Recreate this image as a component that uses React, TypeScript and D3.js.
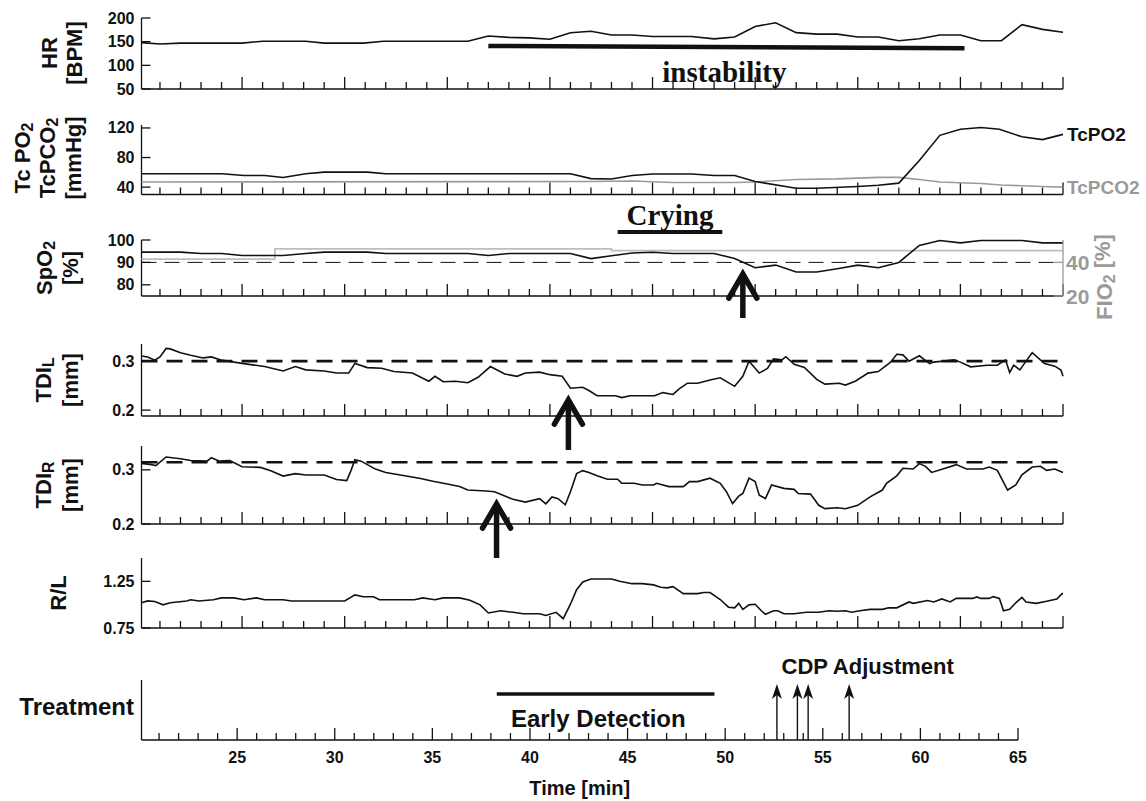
import * as d3 from "d3";

// time in minutes, value in the unit of each panel
const hr: [number, number][] = [
  [20.1, 148], [21, 145], [22, 147], [25, 147], [26, 151], [28.1, 151], [29, 147], [30.9, 147],
  [31.9, 151], [36, 151], [37, 162], [38, 159], [39, 158], [40, 155], [41, 169], [42, 172],
  [43, 164], [44, 164], [45, 161], [46.9, 161], [48, 156], [49, 160], [50, 182], [51, 190],
  [52, 169], [53, 166], [54, 166], [55, 160], [56, 160], [57, 152], [58, 156], [59, 164],
  [60, 164], [61, 152], [62, 152], [63, 186], [64, 176], [65, 170],
];

const tcpo2: [number, number][] = [
  [20.1, 58], [24, 58], [25.1, 55.6], [26.1, 55.6], [27, 53], [28.1, 58], [29, 60.2], [31.1, 60.2],
  [32, 58], [41, 58], [42, 51.5], [43, 51], [44, 55.7], [45, 57.8], [46.9, 57.8], [48, 55.7],
  [49, 55.7], [50, 47.5], [52, 38.4], [53, 38.4], [55, 40.9], [56, 42.6], [57, 45.4], [58, 76],
  [59, 110], [60, 118.3], [61, 120.7], [61.9, 118.3], [63, 108], [64, 104.3], [65, 111.3],
];

const tcpco2: [number, number][] = [
  [20.1, 47], [42, 47.5], [44, 48.2], [46, 46.2], [49, 46.2], [50, 47], [52, 50.3], [54, 51.1],
  [56, 53.2], [57, 53.2], [58, 50.3], [59, 47], [61, 44.9], [62, 42.9], [64, 40.8], [65, 40],
];

const spo2: [number, number][] = [
  [20.1, 94.6], [22, 94.6], [23, 94], [24, 94], [25, 93.1], [27, 93.1], [28.1, 94], [29, 94.6],
  [31.1, 94.6], [32, 94], [36, 94], [37, 93.1], [38, 94], [41, 94], [42, 91.7], [43, 93],
  [44, 94.2], [45, 94.5], [46, 94], [48, 94], [49, 91.7], [50, 87.6], [51, 88.8], [52, 85.7],
  [53, 85.7], [54, 87.2], [55, 88.8], [56, 87.6], [57, 90], [58, 97.6], [59, 99.8], [60, 98.7],
  [61, 99.8], [63, 99.8], [64, 98.7], [65, 98.7],
];

const fio2: [number, number][] = [[20.1, 42], [26.6, 48], [43, 47], [65, 47]];

const tdiL: [number, number][] = [
  [20.1, 0.3105], [20.4, 0.3086], [20.75, 0.302], [21, 0.3086], [21.3, 0.326], [21.5, 0.325],
  [22, 0.317], [22.5, 0.312], [23.1, 0.3066], [23.5, 0.3086], [24, 0.302], [25, 0.2954],
  [26.1, 0.289], [27, 0.28], [27.6, 0.289], [28.1, 0.2822], [29, 0.28], [29.6, 0.2757],
  [30.2, 0.2757], [30.5, 0.2954], [31.1, 0.2868], [31.8, 0.2855], [32.4, 0.279], [33.3, 0.2757],
  [34.1, 0.259], [34.4, 0.269], [34.8, 0.258], [35.4, 0.259], [36, 0.256], [36.5, 0.267],
  [37.1, 0.289], [37.8, 0.2737], [38.4, 0.269], [38.8, 0.2757], [39.5, 0.2776], [40, 0.2724],
  [40.6, 0.269], [41, 0.2447], [41.6, 0.2466], [41.9, 0.24], [42.3, 0.2293], [43.2, 0.2293],
  [43.5, 0.2255], [43.9, 0.2293], [45.1, 0.2293], [45.5, 0.2358], [46, 0.232], [46.3, 0.2435],
  [46.7, 0.255], [47.2, 0.255], [47.8, 0.2615], [48.3, 0.266], [49, 0.2486], [49.4, 0.269],
  [49.7, 0.3], [50.2, 0.2756], [50.6, 0.285], [50.9, 0.3045], [51.3, 0.3026], [51.5, 0.309],
  [51.9, 0.2936], [52.4, 0.2872], [53, 0.2627], [53.4, 0.2531], [54.1, 0.255], [54.4, 0.2512],
  [54.9, 0.2595], [55.5, 0.2756], [56, 0.2788], [56.6, 0.298], [56.9, 0.3141], [57.2, 0.3128],
  [57.5, 0.3], [58, 0.311], [58.5, 0.2949], [58.7, 0.298], [59.7, 0.3026], [60, 0.298],
  [60.5, 0.2884], [61.3, 0.2917], [61.8, 0.2917], [62.2, 0.3026], [62.4, 0.2769], [62.6, 0.2917],
  [62.9, 0.282], [63.2, 0.3], [63.5, 0.3173], [64.1, 0.2949], [64.6, 0.2897], [64.9, 0.282],
  [65, 0.269],
];

const tdiR: [number, number][] = [
  [20.1, 0.312], [20.6, 0.3096], [20.8, 0.3077], [21.3, 0.3237], [22, 0.3205], [22.5, 0.3173],
  [23.3, 0.316], [23.5, 0.3224], [23.9, 0.316], [24.4, 0.3173], [25, 0.3058], [25.9, 0.3045],
  [26.4, 0.2981], [27, 0.2885], [27.6, 0.293], [28.1, 0.2904], [29, 0.2904], [29.6, 0.282],
  [30.1, 0.28], [30.3, 0.2981], [30.5, 0.3186], [30.8, 0.316], [31.5, 0.3013], [32, 0.2949],
  [33, 0.2885], [33.7, 0.284], [34.3, 0.2788], [35, 0.2737], [35.6, 0.2692], [36, 0.2628],
  [36.9, 0.2609], [37.3, 0.2596], [38.2, 0.2455], [38.8, 0.2404], [39.5, 0.2468], [39.8, 0.2372],
  [40.1, 0.25], [40.4, 0.2468], [40.75, 0.2355], [41, 0.2596], [41.3, 0.293], [41.6, 0.2985],
  [41.9, 0.2952], [42.3, 0.289], [42.8, 0.2827], [43.3, 0.2827], [43.5, 0.2752], [44.1, 0.2752],
  [44.5, 0.272], [45.05, 0.272], [45.2, 0.2752], [45.8, 0.269], [46.5, 0.269], [46.8, 0.2783],
  [47.2, 0.2783], [47.8, 0.2846], [48.3, 0.2752], [48.6, 0.2596], [48.9, 0.2377], [49.2, 0.2514],
  [49.4, 0.2564], [49.7, 0.2846], [50, 0.2783], [50.2, 0.2533], [50.5, 0.247], [50.8, 0.272],
  [51.4, 0.2658], [51.9, 0.2639], [52.1, 0.2564], [52.7, 0.2552], [53.1, 0.2345], [53.4, 0.2283],
  [54, 0.2301], [54.4, 0.2283], [55, 0.2345], [55.6, 0.2502], [56.2, 0.2627], [56.4, 0.2752],
  [56.9, 0.289], [57.2, 0.303], [57.7, 0.3015], [58, 0.3115], [58.3, 0.3065], [58.6, 0.2952],
  [59.3, 0.3034], [59.8, 0.3096], [60.3, 0.3015], [61.1, 0.3015], [61.4, 0.3052], [61.8, 0.299],
  [62.3, 0.2627], [62.7, 0.272], [63, 0.2908], [63.5, 0.3052], [63.9, 0.3065], [64.2, 0.299],
  [64.6, 0.3015], [65, 0.2952],
];

const ratioRL: [number, number][] = [
  [20.1, 1.021], [20.4, 1.04], [20.75, 1.034], [21.15, 0.998], [21.5, 1.021], [22.3, 1.04],
  [22.5, 1.053], [22.9, 1.04], [23.6, 1.053], [24, 1.073], [24.6, 1.073], [25.1, 1.053],
  [25.7, 1.073], [26.1, 1.053], [27, 1.053], [27.4, 1.04], [30, 1.04], [30.5, 1.105],
  [30.9, 1.085], [31.4, 1.085], [31.7, 1.053], [33.4, 1.053], [33.8, 1.073], [34.4, 1.053],
  [34.8, 1.073], [35.6, 1.073], [36.1, 1.047], [36.6, 0.998], [37, 0.911], [37.6, 0.934],
  [38.2, 0.918], [38.7, 0.902], [39.5, 0.902], [39.8, 0.885], [40.3, 0.918], [40.65, 0.85],
  [41, 1.005], [41.3, 1.16], [41.6, 1.244], [42, 1.275], [43, 1.275], [43.4, 1.25],
  [44, 1.225], [44.5, 1.225], [45.05, 1.212], [45.4, 1.187], [45.7, 1.18], [46, 1.193],
  [46.5, 1.118], [47.2, 1.118], [47.5, 1.13], [47.8, 1.13], [48.3, 1.055], [48.7, 0.973],
  [49, 0.966], [49.2, 1.014], [49.4, 0.95], [49.7, 0.998], [50, 1.004], [50.3, 0.935],
  [50.5, 0.897], [50.9, 0.935], [51.1, 0.935], [51.4, 0.903], [51.9, 0.903], [52.5, 0.919],
  [53.1, 0.919], [53.6, 0.935], [54, 0.929], [54.4, 0.935], [54.7, 0.919], [55.1, 0.935],
  [55.6, 0.95], [56.2, 0.95], [56.5, 0.966], [56.9, 0.966], [57.5, 1.029], [57.7, 1.014],
  [58.4, 1.045], [58.7, 1.029], [59.1, 1.061], [59.5, 1.029], [59.8, 1.067], [60.6, 1.067],
  [60.8, 1.083], [61, 1.067], [61.4, 1.067], [61.6, 1.086], [61.9, 1.067], [62.1, 0.935],
  [62.4, 0.95], [62.7, 1.02], [63, 1.077], [63.2, 1.029], [63.7, 1.014], [64.2, 1.036],
  [64.7, 1.061], [64.96, 1.118], [65, 1.118],
];

// annotations (minutes); the treatment row uses its own, narrower time axis
const instability = [[37, 141], [60.2, 136]];
const crying = [43.3, 48.4];
const earlyDetection = [38.3, 49.45];
const cdpAdjustments = [52.65, 53.7, 54.25, 56.35];
const xMajor = [25, 30, 35, 40, 45, 50, 55, 60, 65];
const xMinor = d3.range(21, 66);

const FONT = "'Liberation Sans', Arial, Helvetica, sans-serif";
const SERIF = "'Liberation Serif', 'Times New Roman', serif";
const INK = "#111";
const GREY = "#9a9a9a";
const LIGHT = "#bdbdbd";

const X_LEFT = 141.5;
const X_RIGHT = 1063;
const X_RIGHT_T = 1018;
const x = d3.scaleLinear().domain([20.1, 65]).range([X_LEFT, X_RIGHT]);
const xT = d3.scaleLinear().domain([20.1, 65]).range([X_LEFT, X_RIGHT_T]);

const line = (y: d3.ScaleLinear<number, number>, curve = d3.curveLinear) =>
  d3
    .line<[number, number]>()
    .x((d) => x(d[0]))
    .y((d) => y(d[1]))
    .curve(curve);

function Axes({ top, bottom, y, ticks, sx = x, showX = false }: any) {
  const [r0, r1] = sx.range();
  return (
    <g stroke={INK} strokeWidth={1.3}>
      <line x1={r0} x2={r0} y1={top} y2={bottom} />
      <line x1={r0} x2={r1} y1={bottom} y2={bottom} />
      {xMinor.map((t) => (
        <line key={t} x1={sx(t)} x2={sx(t)} y1={bottom} y2={bottom - (t % 5 === 0 ? 12 : 7)} />
      ))}
      {y &&
        ticks.map((v: number) => (
          <g key={v}>
            <line x1={r0} x2={r0 + 9} y1={y(v)} y2={y(v)} />
            <text
              x={r0 - 7}
              y={y(v)}
              stroke="none"
              fill={INK}
              fontSize={16}
              fontWeight="bold"
              textAnchor="end"
              dominantBaseline="central"
            >
              {String(v)}
            </text>
          </g>
        ))}
      {showX &&
        xMajor.map((t) => (
          <text
            key={t}
            x={sx(t)}
            y={bottom + 23}
            stroke="none"
            fill={INK}
            fontSize={16}
            fontWeight="bold"
            textAnchor="middle"
          >
            {t}
          </text>
        ))}
    </g>
  );
}

function YLabel({ cx, cy, children, color = INK }: any) {
  return (
    <text
      transform={`translate(${cx},${cy}) rotate(-90)`}
      textAnchor="middle"
      dominantBaseline="central"
      fontSize={22}
      fontWeight="bold"
      fill={color}
    >
      {children}
    </text>
  );
}

function BigArrow({ cx, tip, len }: any) {
  return (
    <g stroke={INK} strokeWidth={5.5} fill="none">
      <line x1={cx} x2={cx} y1={tip + 4} y2={tip + len} />
      <polyline
        points={`${cx - 14},${tip + 26} ${cx},${tip + 2} ${cx + 14},${tip + 26}`}
        strokeLinecap="round"
        strokeLinejoin="miter"
      />
    </g>
  );
}

function ThinArrow({ cx, tip, bottom }: any) {
  return (
    <g>
      <line x1={cx} x2={cx} y1={tip + 4} y2={bottom} stroke={INK} strokeWidth={1.4} />
      <path
        d={`M${cx},${tip} L${cx - 5},${tip + 15} L${cx},${tip + 11} L${cx + 5},${tip + 15} Z`}
        fill={INK}
      />
    </g>
  );
}

const Sub = ({ children }: any) => (
  <>
    <tspan dy="0.3em" fontSize="0.72em">
      {children}
    </tspan>
    <tspan dy="-0.3em"> </tspan>
  </>
);

export default function App() {
  const hrY = d3.scaleLinear().domain([50, 200]).range([89, 18]);
  const tcY = d3.scaleLinear().domain([30, 124]).range([194.5, 125]);
  const spY = d3.scaleLinear().domain([75, 100]).range([296, 240]);
  const fiY = d3.scaleLinear().domain([20, 53.33]).range([296, 240]);
  const tlY = d3.scaleLinear().domain([0.188, 0.335]).range([416, 344]);
  const trY = d3.scaleLinear().domain([0.2, 0.344]).range([524, 446]);
  const rlY = d3.scaleLinear().domain([0.75, 1.5]).range([628, 558]);
  const trTop = 680;
  const trBottom = 740;

  const last = (a: [number, number][]) => a[a.length - 1];

  return (
    <svg
      width={1146}
      height={801}
      style={{ position: "absolute", left: 0, top: 0, background: "#fff" }}
      fontFamily={FONT}
    >
      {/* HR */}
      <Axes top={18} bottom={89} y={hrY} ticks={[50, 100, 150, 200]} />
      <path d={line(hrY)(hr)!} fill="none" stroke={INK} strokeWidth={1.6} />
      <line
        x1={x(instability[0][0])}
        y1={hrY(instability[0][1])}
        x2={x(instability[1][0])}
        y2={hrY(instability[1][1])}
        stroke={INK}
        strokeWidth={4.5}
      />
      <text x={x(48.5)} y={82} textAnchor="middle" fontFamily={SERIF} fontWeight="bold" fontSize={29} fill={INK}>
        instability
      </text>
      <YLabel cx={49} cy={53}>HR</YLabel>
      <YLabel cx={74} cy={53}>[BPM]</YLabel>

      {/* TcPO2 / TcPCO2 */}
      <Axes top={125} bottom={194.5} y={tcY} ticks={[40, 80, 120]} />
      <path d={line(tcY)(tcpco2)!} fill="none" stroke={GREY} strokeWidth={1.6} />
      <path d={line(tcY)(tcpo2)!} fill="none" stroke={INK} strokeWidth={1.6} />
      <text x={X_RIGHT + 4} y={tcY(last(tcpo2)[1])} dominantBaseline="central" fontSize={19} fontWeight="bold" fill={INK}>
        TcPO2
      </text>
      <text x={X_RIGHT + 4} y={tcY(last(tcpco2)[1])} dominantBaseline="central" fontSize={19} fontWeight="bold" fill={GREY}>
        TcPCO2
      </text>
      <YLabel cx={22} cy={158}>
        Tc PO<Sub>2</Sub>
      </YLabel>
      <YLabel cx={47} cy={158}>
        TcPCO<Sub>2</Sub>
      </YLabel>
      <YLabel cx={73} cy={158}>[mmHg]</YLabel>

      {/* SpO2 / FIO2 */}
      <Axes top={240} bottom={296} y={spY} ticks={[80, 90, 100]} />
      <line x1={X_LEFT} x2={X_RIGHT} y1={spY(90)} y2={spY(90)} stroke={INK} strokeWidth={1} strokeDasharray="15 8" />
      <path d={line(fiY, d3.curveStepAfter)(fio2)!} fill="none" stroke={LIGHT} strokeWidth={1.8} />
      <path d={line(spY)(spo2)!} fill="none" stroke={INK} strokeWidth={1.6} />
      <g stroke={GREY} strokeWidth={1.3}>
        <line x1={X_RIGHT} x2={X_RIGHT} y1={240} y2={296} />
        {[20, 40].map((v) => (
          <line key={v} x1={X_RIGHT - 9} x2={X_RIGHT} y1={fiY(v)} y2={fiY(v)} />
        ))}
      </g>
      {[20, 40].map((v) => (
        <text key={v} x={X_RIGHT + 3} y={fiY(v)} dominantBaseline="central" fontSize={21} fontWeight="bold" fill={GREY}>
          {v}
        </text>
      ))}
      <YLabel cx={1104} cy={277} color={GREY}>
        FIO<Sub>2</Sub>[%]
      </YLabel>
      <line x1={x(crying[0])} x2={x(crying[1])} y1={232} y2={232} stroke={INK} strokeWidth={4} />
      <text x={x((crying[0] + crying[1]) / 2)} y={225} textAnchor="middle" fontFamily={SERIF} fontWeight="bold" fontSize={29} fill={INK}>
        Crying
      </text>
      <YLabel cx={44} cy={268}>
        SpO<Sub>2</Sub>
      </YLabel>
      <YLabel cx={70} cy={268}>[%]</YLabel>
      <BigArrow cx={x(49.4)} tip={spY(85.7)} len={46} />

      {/* TDI L */}
      <Axes top={344} bottom={416} y={tlY} ticks={[0.2, 0.3]} />
      <line x1={X_LEFT} x2={X_RIGHT} y1={tlY(0.3)} y2={tlY(0.3)} stroke={INK} strokeWidth={2.6} strokeDasharray="16 9" />
      <path d={line(tlY)(tdiL)!} fill="none" stroke={INK} strokeWidth={1.6} />
      <YLabel cx={43} cy={380}>
        TDI<Sub>L</Sub>
      </YLabel>
      <YLabel cx={70} cy={380}>[mm]</YLabel>
      <BigArrow cx={x(40.9)} tip={tlY(0.2247)} len={52} />

      {/* TDI R */}
      <Axes top={446} bottom={524} y={trY} ticks={[0.2, 0.3]} />
      <line x1={X_LEFT} x2={X_RIGHT} y1={trY(0.314)} y2={trY(0.314)} stroke={INK} strokeWidth={2.6} strokeDasharray="16 9" />
      <path d={line(trY)(tdiR)!} fill="none" stroke={INK} strokeWidth={1.6} />
      <YLabel cx={43} cy={485}>
        TDI<Sub>R</Sub>
      </YLabel>
      <YLabel cx={70} cy={485}>[mm]</YLabel>
      <BigArrow cx={x(37.4)} tip={trY(0.2406)} len={56} />

      {/* R/L */}
      <Axes top={558} bottom={628} y={rlY} ticks={[0.75, 1.25]} />
      <path d={line(rlY)(ratioRL)!} fill="none" stroke={INK} strokeWidth={1.6} />
      <YLabel cx={58} cy={593}>R/L</YLabel>

      {/* Treatment */}
      <Axes top={trTop} bottom={trBottom} sx={xT} showX />
      <text x={134} y={706} textAnchor="end" dominantBaseline="central" fontSize={24} fontWeight="bold" fill={INK}>
        Treatment
      </text>
      <line x1={xT(earlyDetection[0])} x2={xT(earlyDetection[1])} y1={694} y2={694} stroke={INK} strokeWidth={3.5} />
      <text x={xT(43.5)} y={718} textAnchor="middle" dominantBaseline="central" fontSize={24} fontWeight="bold" fill={INK}>
        Early Detection
      </text>
      <text x={xT(57.3)} y={666} textAnchor="middle" dominantBaseline="central" fontSize={22} fontWeight="bold" fill={INK}>
        CDP Adjustment
      </text>
      {cdpAdjustments.map((t) => (
        <ThinArrow key={t} cx={xT(t)} tip={684} bottom={trBottom} />
      ))}
      <text x={(X_LEFT + X_RIGHT_T) / 2} y={795} textAnchor="middle" fontSize={20} fontWeight="bold" fill={INK}>
        Time [min]
      </text>
    </svg>
  );
}
